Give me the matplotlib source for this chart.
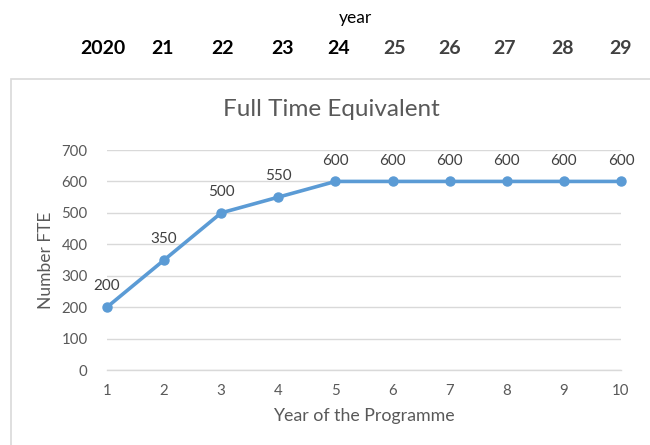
import matplotlib.pyplot as plt
from matplotlib.patches import Rectangle

plt.rcParams['font.family'] = ['Lato', 'DejaVu Sans']

# data
programme_year = [1, 2, 3, 4, 5, 6, 7, 8, 9, 10]
fte = [200, 350, 500, 550, 600, 600, 600, 600, 600, 600]
calendar_years = ["2020", "21", "22", "23", "24", "25", "26", "27", "28", "29"]

# header layout (pixel x centres of the year row above the chart)
header_x = [103, 163, 223, 282, 339, 395, 450, 505, 562, 620]
header_colors = ["#000000"] * 5 + ["#404040"] * 5

W, H = 650, 445
BLUE = "#5B9BD5"
GRID = "#D9D9D9"
TXT = "#595959"

fig = plt.figure(figsize=(W / 100, H / 100), dpi=100)

# chart area border
fig.patches.append(Rectangle((11 / W, -0.01), 1.0, 1 - 79 / H + 0.01,
                             transform=fig.transFigure, fill=False,
                             edgecolor=GRID, linewidth=1.2))

# header table
fig.text(355 / W, 1 - 18 / H, "year", ha="center", va="center",
         fontsize=12.5, color="#000000")
for lab, x, c in zip(calendar_years, header_x, header_colors):
    fig.text(x / W, 1 - 48 / H, lab, ha="center", va="center",
             fontsize=14, fontweight="bold", color=c)

ax = fig.add_axes([107 / W, 1 - 370 / H, (621 - 107) / W, (370 - 150) / H])

ax.plot(programme_year, fte, color=BLUE, linewidth=2.6, marker="o",
        markersize=6.5, clip_on=False, zorder=3)

for x, y in zip(programme_year, fte):
    ax.annotate(str(y), (x, y), xytext=(0, 10), textcoords="offset points",
                ha="center", va="bottom", fontsize=11, color="#404040")

ax.set_xlim(1, 10)
ax.set_ylim(0, 700)
ax.set_yticks(range(0, 701, 100))
ax.set_xticks(programme_year)

ax.grid(axis="y", color=GRID, linewidth=1)
ax.set_axisbelow(True)
for s in ["top", "right", "left"]:
    ax.spines[s].set_visible(False)
ax.spines["bottom"].set_color(GRID)
ax.spines["bottom"].set_linewidth(1)

ax.tick_params(axis="both", length=0, labelsize=10.8, labelcolor=TXT)
ax.tick_params(axis="y", pad=14)
ax.tick_params(axis="x", pad=10)

ax.set_xlabel("Year of the Programme", fontsize=12.8, color=TXT, labelpad=7)
ax.set_ylabel("Number FTE", fontsize=12.5, color=TXT, labelpad=5)

fig.text(331 / W, 1 - 110 / H, "Full Time Equivalent", ha="center",
         va="center", fontsize=17.5, color=TXT)

fig.savefig("out.png", dpi=100)
